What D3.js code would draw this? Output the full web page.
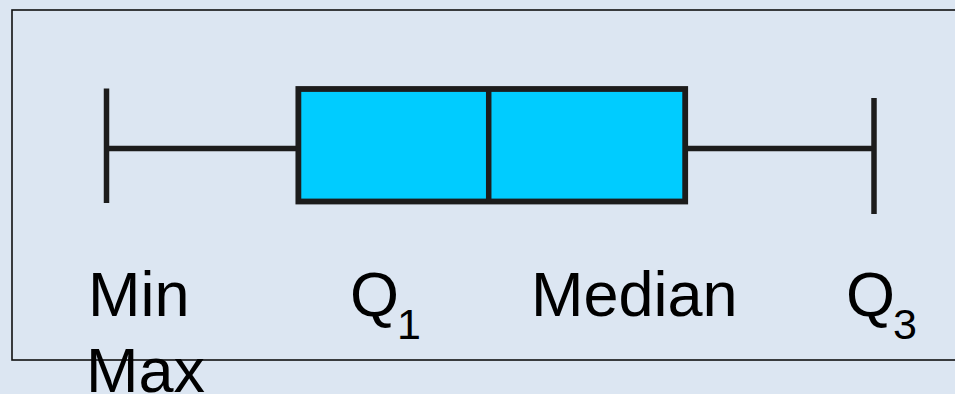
<meta charset="utf-8">
<style>
  body { margin: 0; background: #dce6f2; }
  svg { display: block; }
  text { font-family: "Liberation Sans", Arial, sans-serif; fill: #000; }
</style>
<svg width="955" height="394"></svg>
<script src="https://cdnjs.cloudflare.com/ajax/libs/d3/7.8.5/d3.min.js"></script>
<script>
// five-number summary (arbitrary units)
var statKeys = ["min", "q1", "median", "q3", "max"];
var statValues = [0, 2.5, 4.98, 7.54, 10];

// labels under the plot: main text + subscript
var labelText = ["Min", "Q", "Median", "Q", "Max"];
var labelSub = ["", "1", "", "3", ""];

var stats = {};
statKeys.forEach(function(k, i) { stats[k] = statValues[i]; });

var svg = d3.select("svg"),
    width = +svg.attr("width"),
    height = +svg.attr("height");

var ink = "#1c1c1c";

// frame
svg.append("rect")
    .attr("x", 12)
    .attr("y", 10)
    .attr("width", 960)
    .attr("height", 350)
    .attr("fill", "#dce6f2")
    .attr("stroke", "#111")
    .attr("stroke-width", 1.6);

var x = d3.scaleLinear()
    .domain([stats.min, stats.max])
    .range([106.5, 874]);

var g = svg.append("g");

// whisker line
g.append("line")
    .attr("x1", x(stats.min)).attr("x2", x(stats.q1))
    .attr("y1", 148.5).attr("y2", 148.5)
    .attr("stroke", ink).attr("stroke-width", 5.5);
g.append("line")
    .attr("x1", x(stats.q3)).attr("x2", x(stats.max))
    .attr("y1", 148.5).attr("y2", 148.5)
    .attr("stroke", ink).attr("stroke-width", 5.5);

// caps
g.append("line")
    .attr("x1", x(stats.min)).attr("x2", x(stats.min))
    .attr("y1", 88.5).attr("y2", 203)
    .attr("stroke", ink).attr("stroke-width", 5.5);
g.append("line")
    .attr("x1", x(stats.max)).attr("x2", x(stats.max))
    .attr("y1", 98).attr("y2", 214)
    .attr("stroke", ink).attr("stroke-width", 5.5);

// box
g.append("rect")
    .attr("x", x(stats.q1))
    .attr("y", 89)
    .attr("width", x(stats.q3) - x(stats.q1))
    .attr("height", 112.5)
    .attr("fill", "#00ccff")
    .attr("stroke", ink)
    .attr("stroke-width", 5.8);

// median
g.append("line")
    .attr("x1", x(stats.median)).attr("x2", x(stats.median))
    .attr("y1", 89).attr("y2", 201.5)
    .attr("stroke", ink).attr("stroke-width", 5.5);

// labels
var labelPos = [[88, 316], [350, 316], [531, 316], [846, 316], [86, 392]];

labelText.forEach(function(t, i) {
  var txt = svg.append("text")
      .attr("x", labelPos[i][0])
      .attr("y", labelPos[i][1])
      .attr("font-size", "63px");
  txt.append("tspan").text(t);
  if (labelSub[i]) {
    txt.append("tspan")
        .attr("dx", -2)
        .attr("dy", 23)
        .attr("font-size", "43px")
        .text(labelSub[i]);
  }
});
</script>
